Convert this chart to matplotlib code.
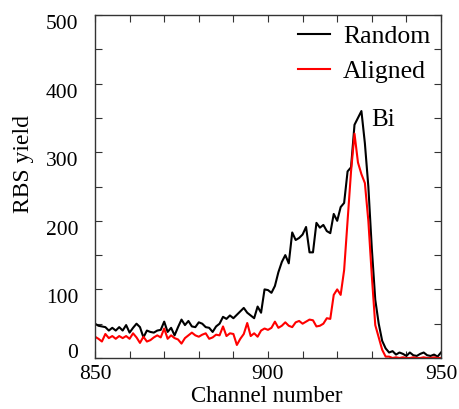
import matplotlib
matplotlib.use("Agg")
import matplotlib.pyplot as plt
from matplotlib.ticker import MultipleLocator

channels = list(range(850, 951))

random_yield = [
    50, 47, 46, 45, 40, 44, 40, 45, 40, 48,
    37, 44, 50, 45, 30, 40, 38, 37, 40, 41,
    53, 38, 44, 33, 45, 56, 48, 54, 46, 45,
    52, 50, 45, 44, 38, 46, 50, 60, 57, 62,
    58, 63, 68, 73, 66, 62, 58, 75, 66, 100,
    99, 95, 105, 125, 140, 150, 138, 183, 172, 175,
    180, 191, 154, 154, 197, 190, 194, 185, 182, 210,
    200, 220, 226, 272, 278, 340, 350, 360, 313, 250,
    160, 85, 50, 25, 14, 8, 10, 5, 8, 6,
    3, 8, 4, 3, 6, 8, 4, 3, 5, 2,
    8,
]

aligned_yield = [
    31, 28, 24, 35, 29, 32, 28, 32, 29, 32,
    28, 36, 30, 22, 31, 24, 26, 30, 33, 30,
    43, 28, 33, 29, 27, 21, 29, 33, 37, 33,
    31, 34, 36, 28, 30, 34, 33, 46, 32, 36,
    35, 19, 28, 35, 51, 32, 36, 31, 40, 43,
    41, 44, 53, 44, 47, 52, 47, 45, 52, 54,
    50, 53, 56, 55, 46, 47, 50, 58, 57, 92,
    100, 92, 128, 200, 272, 327, 285, 268, 255, 200,
    120, 48, 30, 12, 2, 2, 0, 1, 0, 1,
    0, 0, 1, 0, 0, 1, 0, 0, 1, 0,
    0,
]

plt.rcParams['font.family'] = ['Liberation Serif', 'DejaVu Serif']

fig = plt.figure(figsize=(4.6, 4.09), dpi=100)
ax = fig.add_axes([0.2065, 0.1247, 0.7522, 0.8386])

ax.plot(channels, random_yield, color='black', lw=1.5, label='Random')
ax.plot(channels, aligned_yield, color='red', lw=1.5, label='Aligned')

ax.set_xlim(850, 950)
ax.set_ylim(0, 500)
ax.xaxis.set_major_locator(MultipleLocator(50))
ax.xaxis.set_minor_locator(MultipleLocator(10))
ax.yaxis.set_major_locator(MultipleLocator(100))
ax.yaxis.set_minor_locator(MultipleLocator(50))
ax.tick_params(which='both', direction='in', top=True, right=True, labelsize=15.5,
               width=0.8, color='#333333', length=5)
ax.tick_params(axis='x', which='major', pad=5)
ax.tick_params(axis='y', which='major', pad=12)
for s in ax.spines.values():
    s.set_color('#333333')
    s.set_linewidth(1.0)

fig.canvas.draw()
for lab in ax.get_yticklabels():
    if lab.get_text() == '0':
        lab.set_va('baseline')
    else:
        lab.set_va('top')

ax.set_xlabel('Channel number', fontsize=16.5)
ax.xaxis.label.set_va('baseline')
ax.xaxis.set_label_coords(0.495, -0.128)
ax.set_ylabel('RBS yield', fontsize=17)
ax.yaxis.set_label_coords(-0.175, 0.566)

ax.text(929.7, 347, 'Bi', fontsize=18, ha='left', va='center')

ax.legend(loc='upper left', bbox_to_anchor=(0.587, 0.972), frameon=False, fontsize=18.5,
          handlelength=1.25, handletextpad=0.5, labelspacing=0.5,
          borderaxespad=0, borderpad=0)

fig.savefig('out.png', dpi=100)
